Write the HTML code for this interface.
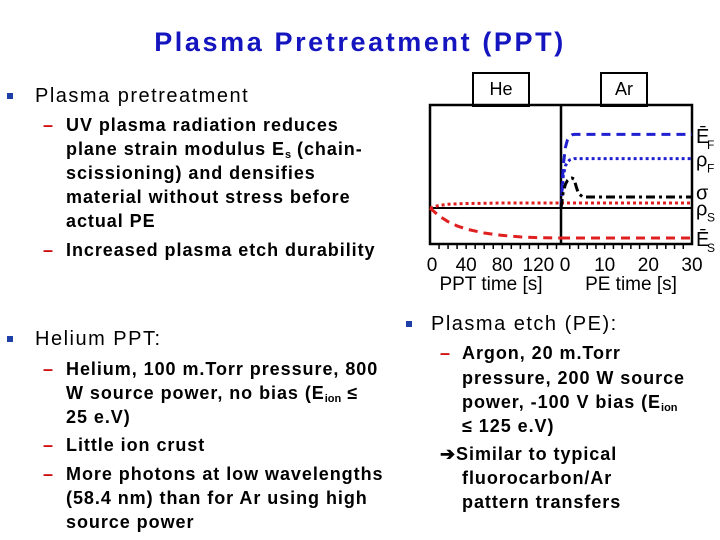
<!DOCTYPE html>
<html><head><meta charset="utf-8"><style>
body{margin:0;width:720px;height:540px;background:#fff;position:relative;overflow:hidden;font-family:"Liberation Sans",Arial,sans-serif;}
.t{position:absolute;white-space:nowrap;font-weight:bold;color:#000;line-height:1;}
.m{font-size:20px;font-weight:normal;letter-spacing:1.5px;}
.s{font-size:18px;letter-spacing:0.95px;}
.b{position:absolute;width:6px;height:6px;background:#1f3fa8;}
.d{position:absolute;color:#d01010;font-weight:bold;font-size:18px;line-height:1;}
#title{position:absolute;left:0;width:720px;text-align:center;top:27px;font-size:27px;color:#1515c0;font-weight:bold;letter-spacing:2.6px}
sub{font-size:11px;vertical-align:-3px;line-height:0;letter-spacing:0}
</style></head><body>
<div id="title">Plasma Pretreatment (PPT)</div>

<div class="b" style="left:7px;top:93px"></div>
<div class="t m" style="left:35px;top:86px">Plasma pretreatment</div>
<div class="d" style="left:43px;top:116px">–</div>
<div class="t s" style="left:66px;top:116px">UV plasma radiation reduces</div>
<div class="t s" style="left:66px;top:140px">plane strain modulus E<sub>s</sub> (chain-</div>
<div class="t s" style="left:66px;top:164px">scissioning) and densifies</div>
<div class="t s" style="left:66px;top:188px">material without stress before</div>
<div class="t s" style="left:66px;top:212px">actual PE</div>
<div class="d" style="left:43px;top:241px">–</div>
<div class="t s" style="left:66px;top:241px">Increased plasma etch durability</div>

<div class="b" style="left:7px;top:336px"></div>
<div class="t m" style="left:35px;top:329px">Helium PPT:</div>
<div class="d" style="left:43px;top:360px">–</div>
<div class="t s" style="left:66px;top:360px">Helium, 100 m.Torr pressure, 800</div>
<div class="t s" style="left:66px;top:384px">W source power, no bias (E<sub>ion</sub> ≤</div>
<div class="t s" style="left:66px;top:408px">25 e.V)</div>
<div class="d" style="left:43px;top:436px">–</div>
<div class="t s" style="left:66px;top:436px">Little ion crust</div>
<div class="d" style="left:43px;top:465px">–</div>
<div class="t s" style="left:66px;top:465px">More photons at low wavelengths</div>
<div class="t s" style="left:66px;top:489px">(58.4 nm) than for Ar using high</div>
<div class="t s" style="left:66px;top:513px">source power</div>

<div class="b" style="left:406px;top:321px"></div>
<div class="t m" style="left:431px;top:314px">Plasma etch (PE):</div>
<div class="d" style="left:440px;top:344px">–</div>
<div class="t s" style="left:462px;top:344px">Argon, 20 m.Torr</div>
<div class="t s" style="left:462px;top:369px">pressure, 200 W source</div>
<div class="t s" style="left:462px;top:393px">power, -100 V bias (E<sub>ion</sub></div>
<div class="t s" style="left:462px;top:417px">≤ 125 e.V)</div>
<div class="t s" style="left:440px;top:445px">➔Similar to typical</div>
<div class="t s" style="left:462px;top:469px">fluorocarbon/Ar</div>
<div class="t s" style="left:462px;top:493px">pattern transfers</div>

<svg id="chart" width="720" height="540" style="position:absolute;left:0;top:0"></svg>
<script>
// data
const pptTicks=[0,40,80,120];
const peTicks=[0,10,20,30];
const heT=[0,10,20,30,40,60,80,100,120,145];
const heES=[0,-0.3,-0.52,-0.68,-0.8,-0.95,-1.04,-1.1,-1.13,-1.14];
const heRhoS=[0,0.1,0.14,0.16,0.17,0.18,0.19,0.19,0.19,0.19];
const peT=[0,0.5,1,1.5,2,2.5,3,3.5,4,5,30];
const peEF=[0,1.6,2.3,2.6,2.72,2.78,2.8,2.8,2.8,2.8,2.8];
const peRhoF=[0,1.2,1.6,1.75,1.83,1.86,1.88,1.88,1.88,1.88,1.88];
const peSigma=[0,0.6,0.9,1.05,1.12,1.14,1.1,0.8,0.55,0.42,0.42];
const peRhoS=[0.19,0.19,0.19,0.19,0.19,0.19,0.19,0.19,0.19,0.19,0.19];
const peES=[-1.14,-1.14,-1.14,-1.14,-1.14,-1.14,-1.14,-1.14,-1.14,-1.14,-1.14];
const labels=["Ē","ρ","σ","ρ","Ē"];
const labelSubs=["F","F","","S","S"];
const labelVals=[2.7,1.8,0.55,-0.05,-1.22];

const L=430,M=561,R=692,T=105,B=244,Y0=208;
const xHe=t=>L+t*(M-L)/145;
const xPE=t=>M+t*(R-M)/30;
const y=v=>Y0-v*26.3;
const svg=document.getElementById('chart');
const NS='http://www.w3.org/2000/svg';
function mk(tag,a){const e=document.createElementNS(NS,tag);for(const k in a)e.setAttribute(k,a[k]);svg.appendChild(e);return e;}
const FF='Liberation Sans, sans-serif';

let e=mk('rect',{x:473,y:73,width:56,height:33,fill:'#fff',stroke:'#000','stroke-width':2});

e=mk('text',{x:501,y:95,'text-anchor':'middle','font-size':18,'font-family':FF});e.textContent='He';

e=mk('rect',{x:601,y:73,width:46,height:33,fill:'#fff',stroke:'#000','stroke-width':2});

e=mk('text',{x:624,y:95,'text-anchor':'middle','font-size':18,'font-family':FF});e.textContent='Ar';


e=mk('rect',{x:L,y:T,width:R-L,height:B-T,fill:'none',stroke:'#000','stroke-width':2.5});

e=mk('line',{x1:M,y1:T,x2:M,y2:B,stroke:'#000','stroke-width':2.5});

e=mk('line',{x1:L,y1:Y0,x2:R,y2:Y0,stroke:'#000','stroke-width':2});


for(let t=10;t<145;t+=10){e=mk('line',{x1:xHe(t),y1:B,x2:xHe(t),y2:B+5,stroke:'#000','stroke-width':1.5});
}
for(let t=2;t<30;t+=2){e=mk('line',{x1:xPE(t),y1:B,x2:xPE(t),y2:B+5,stroke:'#000','stroke-width':1.5});
}
pptTicks.forEach(v=>{e=mk('text',{x:xHe(v)+(v===0?2:0),y:271,'text-anchor':'middle','font-size':19,'font-family':FF});e.textContent=v;
});
peTicks.forEach(v=>{e=mk('text',{x:xPE(v)+(v===0?4:0),y:271,'text-anchor':'middle','font-size':19,'font-family':FF});e.textContent=v;
});
e=mk('text',{x:491,y:290,'text-anchor':'middle','font-size':19,'font-family':FF});e.textContent='PPT time [s]';

e=mk('text',{x:631,y:290,'text-anchor':'middle','font-size':19,'font-family':FF});e.textContent='PE time [s]';


function path(xs,ys,xf){return xs.map((t,i)=>(i?'L':'M')+xf(t).toFixed(1)+','+y(ys[i]).toFixed(1)).join(' ');}
function ser(xs,ys,xf,col,dash,name){const p=mk('path',{d:path(xs,ys,xf),fill:'none',stroke:col,'stroke-width':3,'stroke-dasharray':dash,'stroke-linejoin':'round'});
}
ser(heT,heES,xHe,'#e02020','9,6','he-es-line');
ser(heT,heRhoS,xHe,'#e02020','3,3','he-rhos-line');
ser(peT,peES,xPE,'#e02020','9,6','pe-es-line');
ser(peT,peRhoS,xPE,'#e02020','3,3','pe-rhos-line');
ser(peT,peEF,xPE,'#2020d0','9,6','pe-ef-line');
ser(peT,peRhoF,xPE,'#2020d0','3,3','pe-rhof-line');
ser(peT,peSigma,xPE,'#000','9,4,3,4','pe-sigma-line');

labels.forEach((s,i)=>{e=mk('text',{x:696,y:y(labelVals[i])+6,'font-size':20,'font-family':'Liberation Sans, DejaVu Sans, sans-serif'});e.textContent=s;

if(labelSubs[i]){const s2=mk('text',{x:707,y:y(labelVals[i])+12,'font-size':12,'font-family':FF});s2.textContent=labelSubs[i];
}});
</script>
</body></html>
